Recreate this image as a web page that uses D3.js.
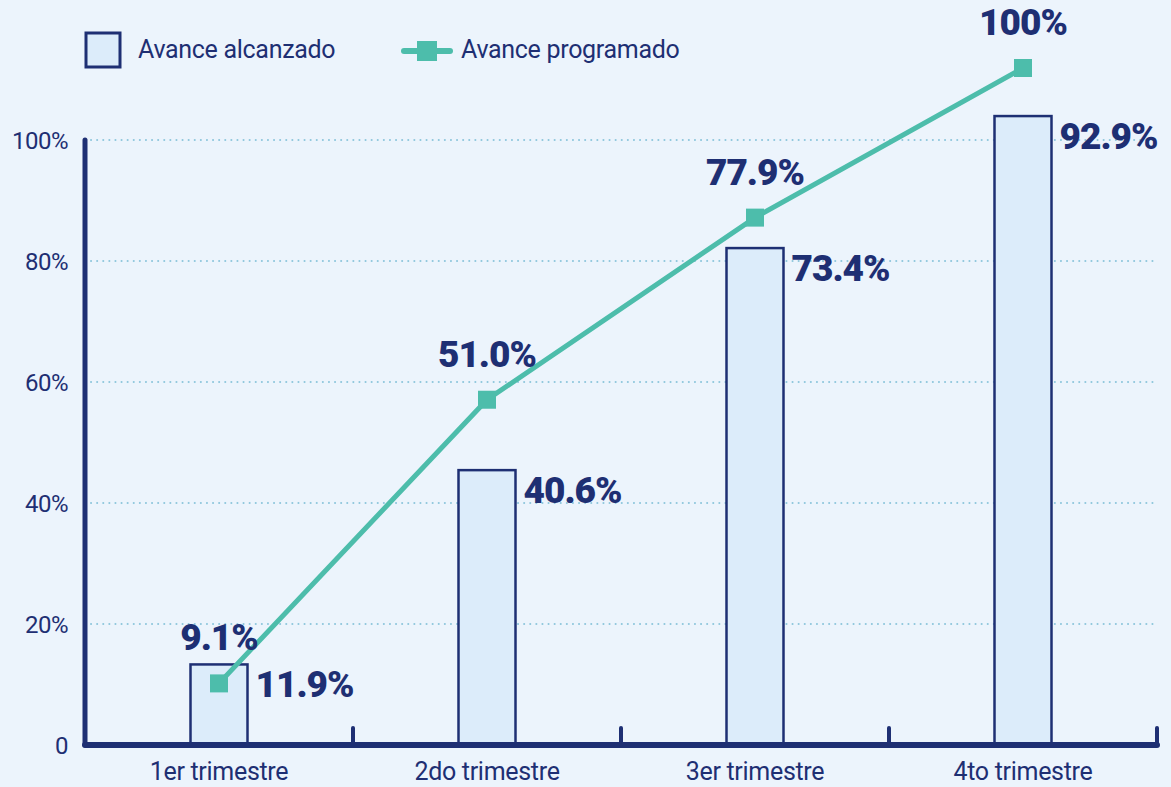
<!DOCTYPE html>
<html lang="es">
<head>
  <meta charset="utf-8">
  <title>Avance alcanzado vs programado</title>
  <script src="https://d3js.org/d3.v7.min.js"></script>
  <style>
    body { margin: 0; background: #ecf4fc; }
    svg text { font-family: Roboto, "Noto Sans", sans-serif; fill: #1e2f73; }
  </style>
</head>
<body>
<div id="chart"></div>
<script>
  "use strict"
  // datos
  var trimestres = ["1er trimestre", "2do trimestre", "3er trimestre", "4to trimestre"];
  var alcanzado = [11.9, 40.6, 73.4, 92.9];
  var programado = [9.1, 51.0, 77.9, 100];
  var etiquetasAlcanzado = ["11.9%", "40.6%", "73.4%", "92.9%"];
  var etiquetasProgramado = ["9.1%", "51.0%", "77.9%", "100%"];
  var ticksY = [0, 20, 40, 60, 80, 100];
  var etiquetasY = ["0", "20%", "40%", "60%", "80%", "100%"];

  var width = 1171, height = 787;
  var azul = "#1e2f73", verde = "#4dbdab", relleno = "#dcecfa", grilla = "#8ec6dc";
  var left = 85, right = 1157, bottom = 745;

  var svg = d3.select("#chart").append("svg")
      .attr("width", width)
      .attr("height", height);

  var x = d3.scaleBand().domain(trimestres).range([left, right]);
  // escala del eje (etiquetas) y escala de las marcas, tal como en la imagen original
  var yEje = d3.scaleLinear().domain([0, 100]).range([bottom, 140]);
  var y = d3.scaleLinear().domain([0, 100]).range([bottom, 68]);

  // grilla punteada
  svg.selectAll(".grid")
    .data(ticksY.slice(1))
    .enter().append("line")
      .attr("x1", left + 6).attr("x2", right)
      .attr("y1", function(d){ return yEje(d); })
      .attr("y2", function(d){ return yEje(d); })
      .attr("stroke", grilla)
      .attr("stroke-width", 2)
      .attr("stroke-dasharray", "0.1 6")
      .attr("stroke-linecap", "round");

  // etiquetas del eje y
  svg.selectAll(".ytxt")
    .data(ticksY)
    .enter().append("text")
      .attr("x", 68)
      .attr("y", function(d){ return yEje(d); })
      .attr("dy", "0.36em")
      .attr("text-anchor", "end")
      .attr("font-size", "24px")
      .attr("letter-spacing", "-0.5px")
      .text(function(d, i){ return etiquetasY[i]; });

  // barras
  var bw = 57;
  svg.selectAll(".bar")
    .data(alcanzado)
    .enter().append("rect")
      .attr("x", function(d, i){ return x(trimestres[i]) + x.bandwidth() / 2 - bw / 2; })
      .attr("y", function(d){ return y(d); })
      .attr("width", bw)
      .attr("height", function(d){ return bottom - y(d); })
      .attr("fill", relleno)
      .attr("stroke", azul)
      .attr("stroke-width", 2.5);

  // ejes
  svg.append("line")
      .attr("x1", left).attr("x2", left)
      .attr("y1", yEje(100)).attr("y2", bottom)
      .attr("stroke", azul).attr("stroke-width", 5).attr("stroke-linecap", "round");
  svg.append("line")
      .attr("x1", left).attr("x2", right)
      .attr("y1", bottom).attr("y2", bottom)
      .attr("stroke", azul).attr("stroke-width", 6).attr("stroke-linecap", "round");
  svg.selectAll(".xtick")
    .data(trimestres)
    .enter().append("line")
      .attr("x1", function(d){ return x(d) + x.bandwidth(); })
      .attr("x2", function(d){ return x(d) + x.bandwidth(); })
      .attr("y1", 728).attr("y2", bottom)
      .attr("stroke", azul).attr("stroke-width", 4).attr("stroke-linecap", "round");
  svg.selectAll(".xtxt")
    .data(trimestres)
    .enter().append("text")
      .attr("x", function(d){ return x(d) + x.bandwidth() / 2; })
      .attr("y", 780)
      .attr("text-anchor", "middle")
      .attr("font-size", "25px")
      .attr("letter-spacing", "-0.3px")
      .text(function(d){ return d; });

  // línea programada
  var linea = d3.line()
      .x(function(d, i){ return x(trimestres[i]) + x.bandwidth() / 2; })
      .y(function(d){ return y(d); });
  svg.append("path")
      .datum(programado)
      .attr("d", linea)
      .attr("fill", "none")
      .attr("stroke", verde)
      .attr("stroke-width", 5);
  svg.selectAll(".marca")
    .data(programado)
    .enter().append("rect")
      .attr("x", function(d, i){ return x(trimestres[i]) + x.bandwidth() / 2 - 9; })
      .attr("y", function(d){ return y(d) - 9; })
      .attr("width", 18).attr("height", 18)
      .attr("fill", verde);

  // etiquetas de valores
  svg.selectAll(".lblBar")
    .data(alcanzado)
    .enter().append("text")
      .attr("x", function(d, i){ return x(trimestres[i]) + x.bandwidth() / 2 + bw / 2 + 8; })
      .attr("y", function(d){ return y(d) + 33; })
      .attr("font-size", "37px")
      .attr("font-weight", "900")
      .attr("letter-spacing", "-1px")
      .text(function(d, i){ return etiquetasAlcanzado[i]; });
  svg.selectAll(".lblLinea")
    .data(programado)
    .enter().append("text")
      .attr("x", function(d, i){ return x(trimestres[i]) + x.bandwidth() / 2; })
      .attr("y", function(d){ return y(d) - 33; })
      .attr("text-anchor", "middle")
      .attr("font-size", "37px")
      .attr("font-weight", "900")
      .attr("letter-spacing", "-1px")
      .text(function(d, i){ return etiquetasProgramado[i]; });

  // leyenda
  svg.append("rect")
      .attr("x", 86).attr("y", 33).attr("width", 34).attr("height", 34)
      .attr("fill", relleno).attr("stroke", azul).attr("stroke-width", 3);
  svg.append("text")
      .attr("x", 138).attr("y", 58)
      .attr("font-size", "25px")
      .attr("letter-spacing", "-0.3px")
      .text("Avance alcanzado");
  svg.append("line")
      .attr("x1", 404).attr("x2", 450).attr("y1", 51).attr("y2", 51)
      .attr("stroke", verde).attr("stroke-width", 6).attr("stroke-linecap", "round");
  svg.append("rect")
      .attr("x", 417).attr("y", 41).attr("width", 20).attr("height", 20)
      .attr("fill", verde);
  svg.append("text")
      .attr("x", 461).attr("y", 58)
      .attr("font-size", "25px")
      .attr("letter-spacing", "-0.3px")
      .text("Avance programado");
</script>
</body>
</html>
